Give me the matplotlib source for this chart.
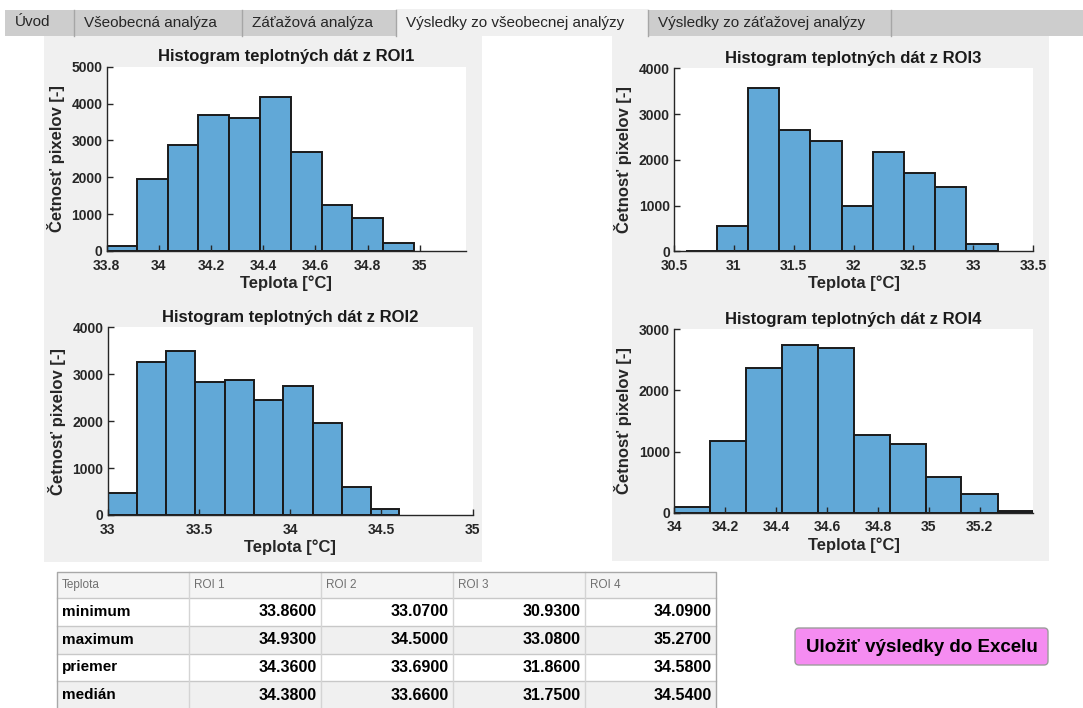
import numpy as np
import matplotlib
matplotlib.use("Agg")
import matplotlib.pyplot as plt
from matplotlib.patches import Rectangle, FancyBboxPatch
from matplotlib.ticker import FuncFormatter

plt.rcParams['font.family'] = ['Liberation Sans', 'DejaVu Sans']

W, H = 1083, 708

# histogram bins and counts for each ROI
roi1_edges = [33.80, 33.918, 34.034, 34.151, 34.270, 34.388, 34.505, 34.624, 34.741, 34.860, 34.979]
roi1_counts = [130, 1950, 2880, 3700, 3610, 4180, 2680, 1235, 895, 225]

roi2_edges = [33.00, 33.159, 33.320, 33.480, 33.641, 33.802, 33.963, 34.123, 34.284, 34.441, 34.598]
roi2_counts = [475, 3260, 3495, 2835, 2875, 2445, 2750, 1970, 600, 120]

roi3_edges = [30.60, 30.856, 31.121, 31.379, 31.636, 31.900, 32.159, 32.420, 32.679, 32.944, 33.208]
roi3_counts = [15, 555, 3560, 2645, 2405, 990, 2165, 1705, 1400, 160]

roi4_edges = [34.00, 34.141, 34.282, 34.422, 34.566, 34.707, 34.847, 34.988, 35.128, 35.272, 35.409]
roi4_counts = [90, 1165, 2375, 2745, 2690, 1275, 1130, 590, 310, 30]

# summary table
stat_names = ['minimum', 'maximum', 'priemer', 'medián']
roi_names = ['ROI 1', 'ROI 2', 'ROI 3', 'ROI 4']
stat_values = [
    [33.86, 33.07, 30.93, 34.09],
    [34.93, 34.50, 33.08, 35.27],
    [34.36, 33.69, 31.86, 34.58],
    [34.38, 33.66, 31.75, 34.54],
]

tab_names = ['Úvod', 'Všeobecná analýza', 'Záťažová analýza',
             'Výsledky zo všeobecnej analýzy', 'Výsledky zo záťažovej analýzy']
tab_bounds = [5, 74, 242, 396, 648, 891]
active_tab = 3

TXT = '#262626'
BAR = '#61a8d7'

fig = plt.figure(figsize=(W / 100, H / 100), dpi=100, facecolor='white')

# background layer in pixel coordinates
bg = fig.add_axes([0, 0, 1, 1], zorder=0)
bg.set_xlim(0, W)
bg.set_ylim(H, 0)
bg.axis('off')

# tab strip
bg.add_patch(Rectangle((5, 10), W - 5, 26, facecolor='#cdcdcd', edgecolor='none'))
for i, name in enumerate(tab_names):
    x0, x1 = tab_bounds[i], tab_bounds[i + 1]
    if i == active_tab:
        bg.add_patch(Rectangle((x0, 9), x1 - x0, 27, facecolor='#f0f0f0', edgecolor='none'))
    bg.text(x0 + 10, 22.5, name, fontsize=11, color=TXT, va='center', ha='left')
for x in tab_bounds[1:]:
    bg.plot([x, x], [10, 36], color='#a6a6a6', lw=1)

# panels behind the plots
bg.add_patch(Rectangle((44, 36), 438, 526, facecolor='#f0f0f0', edgecolor='none'))
bg.add_patch(Rectangle((612, 36), 437, 525, facecolor='#f0f0f0', edgecolor='none'))


def add_hist(x0, x1, ytop, ybot, edges, counts, title, xlim, ylim, xticks, yticks):
    ax = fig.add_axes([x0 / W, 1 - ybot / H, (x1 - x0) / W, (ybot - ytop) / H], zorder=1)
    ax.set_facecolor('white')
    ax.bar(edges[:-1], counts, width=np.diff(edges), align='edge',
           color=BAR, edgecolor='#1a1a1a', linewidth=1.4)
    ax.set_xlim(*xlim)
    ax.set_ylim(*ylim)
    ax.set_xticks(xticks)
    ax.set_yticks(yticks)
    ax.xaxis.set_major_formatter(FuncFormatter(lambda v, p: '%g' % v))
    ax.tick_params(direction='in', length=4, width=1, colors=TXT, labelsize=10)
    ax.tick_params(axis='x', pad=5.5)
    ax.tick_params(axis='y', pad=3)
    for lab in ax.get_xticklabels() + ax.get_yticklabels():
        lab.set_fontweight('bold')
    for s in ['top', 'right']:
        ax.spines[s].set_visible(False)
    for s in ['left', 'bottom']:
        ax.spines[s].set_color(TXT)
        ax.spines[s].set_linewidth(1)
    ax.set_title(title, fontsize=12, fontweight='bold', color='#1a1a1a', pad=4)
    ax.set_xlabel('Teplota [°C]', fontsize=12, fontweight='bold', color=TXT, labelpad=2)
    ax.set_ylabel('Četnosť pixelov [-]', fontsize=12, fontweight='bold', color=TXT, labelpad=5)
    return ax


add_hist(106.7, 466, 66.7, 251, roi1_edges, roi1_counts, 'Histogram teplotných dát z ROI1',
         (33.8, 35.177), (0, 5000), np.arange(33.8, 35.01, 0.2), range(0, 5001, 1000))
add_hist(674, 1033, 68.3, 251.3, roi3_edges, roi3_counts, 'Histogram teplotných dát z ROI3',
         (30.5, 33.5), (0, 4000), np.arange(30.5, 33.51, 0.5), range(0, 4001, 1000))
add_hist(107.7, 472.7, 327.3, 515, roi2_edges, roi2_counts, 'Histogram teplotných dát z ROI2',
         (33, 35), (0, 4000), np.arange(33, 35.01, 0.5), range(0, 4001, 1000))
add_hist(674, 1033, 329.3, 512.7, roi4_edges, roi4_counts, 'Histogram teplotných dát z ROI4',
         (34, 35.409), (0, 3000), np.arange(34, 35.21, 0.2), range(0, 3001, 1000))

# statistics table
col_x = [57, 189, 321, 453, 585, 716]
row_y = [572, 598, 626, 654, 681, 709]
bg.add_patch(Rectangle((col_x[0], row_y[0]), col_x[-1] - col_x[0], row_y[1] - row_y[0],
                       facecolor='#f4f4f4', edgecolor='none'))
for r in range(len(stat_names)):
    fc = 'white' if r % 2 == 0 else '#f0f0f0'
    bg.add_patch(Rectangle((col_x[0], row_y[r + 1]), col_x[-1] - col_x[0],
                           row_y[r + 2] - row_y[r + 1], facecolor=fc, edgecolor='none'))
for y in row_y[1:-1]:
    bg.plot([col_x[0], col_x[-1]], [y, y], color='#c8c8c8', lw=1)
for x in col_x[1:-1]:
    bg.plot([x, x], [row_y[0], row_y[-1]], color='#d4d4d4', lw=1)
bg.plot([col_x[0], col_x[-1], col_x[-1], col_x[0], col_x[0]],
        [row_y[-1], row_y[-1], row_y[0], row_y[0], row_y[-1]], color='#a8a8a8', lw=1)

header = ['Teplota'] + roi_names
for c, name in enumerate(header):
    bg.text(col_x[c] + 5, (row_y[0] + row_y[1]) / 2, name, fontsize=8.5,
            color='#707070', va='center', ha='left')
for r, name in enumerate(stat_names):
    yc = (row_y[r + 1] + row_y[r + 2]) / 2
    bg.text(col_x[0] + 5, yc, name, fontsize=11, fontweight='bold', color='black',
            va='center', ha='left')
    for c, v in enumerate(stat_values[r]):
        bg.text(col_x[c + 2] - 4, yc, '%.4f' % v, fontsize=11.5, fontweight='bold',
                color='black', va='center', ha='right')

# export button
bg.add_patch(FancyBboxPatch((795, 628), 253, 37, boxstyle='round,pad=0,rounding_size=4',
                            facecolor='#f58cf1', edgecolor='#9c9c9c', lw=1))
bg.text(921.5, 647, 'Uložiť výsledky do Excelu', fontsize=13.5, fontweight='bold',
        color='black', ha='center', va='center')

fig.savefig('out.png', dpi=100, facecolor='white')
